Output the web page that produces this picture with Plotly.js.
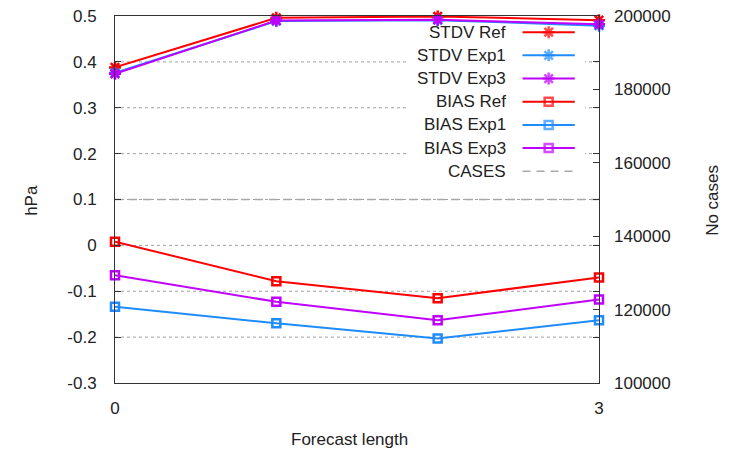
<!DOCTYPE html>
<html>
<head>
<meta charset="utf-8">
<script src="https://cdn.plot.ly/plotly-3.0.1.min.js"></script>
<style>html,body{margin:0;padding:0;background:#fff;}#chart{width:735px;height:451px;}</style>
</head>
<body>
<div id="chart"></div>
<script>
// ---- data ----
const lead = [0, 1, 2, 3];
const stdvRef  = [0.388, 0.496, 0.499, 0.491];
const stdvExp1 = [0.376, 0.489, 0.491, 0.479];
const stdvExp3 = [0.374, 0.490, 0.492, 0.482];
const biasRef  = [0.008, -0.078, -0.115, -0.070];
const biasExp1 = [-0.134, -0.170, -0.203, -0.163];
const biasExp3 = [-0.065, -0.123, -0.163, -0.118];
const cases    = [150000, 150000, 150000, 150000];

const seriesNames = ["STDV Ref", "STDV Exp1", "STDV Exp3", "BIAS Ref", "BIAS Exp1", "BIAS Exp3", "CASES"];
const leftTicks = [-0.3, -0.2, -0.1, 0, 0.1, 0.2, 0.3, 0.4, 0.5];
const rightTicks = [100000, 120000, 140000, 160000, 180000, 200000];
const xTicks = [0, 3];

// ---- styles ----
const RED = "#ff0000", BLUE = "#1e8cff", PURPLE = "#c000ff", GRAY = "#a8a8a8";
const FONT = {family: "Liberation Sans, Arial, sans-serif", size: 17, color: "#222"};

const defs = [
  {name: seriesNames[0], y: stdvRef,  color: RED,    sym: "asterisk-open"},
  {name: seriesNames[1], y: stdvExp1, color: BLUE,   sym: "asterisk-open"},
  {name: seriesNames[2], y: stdvExp3, color: PURPLE, sym: "asterisk-open"},
  {name: seriesNames[3], y: biasRef,  color: RED,    sym: "square-open"},
  {name: seriesNames[4], y: biasExp1, color: BLUE,   sym: "square-open"},
  {name: seriesNames[5], y: biasExp3, color: PURPLE, sym: "square-open"}
];
const msize = s => (s === "square-open" ? 8 : 10);

const traces = [];
traces.push({
  x: lead, y: cases, yaxis: "y2", name: seriesNames[6], mode: "lines",
  line: {color: GRAY, width: 1.5, dash: "8px,6px"}, showlegend: false, hoverinfo: "skip"
});
defs.forEach(d => {
  traces.push({
    x: lead, y: d.y, name: d.name, mode: "lines+markers", cliponaxis: false,
    line: {color: d.color, width: 2},
    marker: {symbol: d.sym, size: msize(d.sym), color: d.color, line: {color: d.color, width: 2.5}},
    showlegend: false
  });
});

// grid lines as shapes so the opaque key background can cover them
const shapes = leftTicks.filter(v => v > -0.3 && v < 0.5).map(v => ({
  type: "line", xref: "x", yref: "y", x0: 0, x1: 3, y0: v, y1: v, layer: "below",
  line: {color: "#a0a0a0", width: 1, dash: "dot"}
}));
shapes.push({
  type: "rect", xref: "x", yref: "y", layer: "below",
  x0: 1.806, x1: 2.913, y0: 0.136, y1: 0.476,
  fillcolor: "#ffffff", opacity: 1, line: {width: 0}
});

// custom key (gnuplot style: text right, sample on the right)
const keyTextX = 0.812, keyL0 = 0.842, keyL1 = 0.950, keyM = 0.896;
const keyTop = 0.956, keyStep = 0.0632;
const annotations = [];
seriesNames.forEach((nm, i) => {
  const yy = keyTop - i * keyStep;
  annotations.push({xref: "paper", yref: "paper", x: keyTextX, y: yy, xanchor: "right", yanchor: "middle",
    text: nm, showarrow: false, font: FONT});
  if (i < defs.length) {
    const d = defs[i];
    traces.push({
      x: [keyL0, keyM, keyL1], y: [yy, yy, yy], xaxis: "x3", yaxis: "y3", mode: "lines+markers",
      line: {color: d.color, width: 2}, cliponaxis: false,
      marker: {symbol: d.sym, size: [0, msize(d.sym), 0], color: d.color, line: {color: d.color, width: 2.5}},
      showlegend: false, hoverinfo: "skip"
    });
  } else {
    traces.push({
      x: [keyL0, keyL1], y: [yy, yy], xaxis: "x3", yaxis: "y3", mode: "lines",
      line: {color: GRAY, width: 1.5, dash: "8px,6px"}, showlegend: false, hoverinfo: "skip"
    });
  }
});

annotations.push({xref: "paper", yref: "paper", x: 0.485, y: -0.155, xanchor: "center", yanchor: "middle",
  text: "Forecast length", showarrow: false, font: FONT});
annotations.push({xref: "paper", yref: "paper", x: -0.1715, y: 0.499, xanchor: "center", yanchor: "middle",
  text: "hPa", textangle: -90, showarrow: false, font: FONT});
annotations.push({xref: "paper", yref: "paper", x: 1.2355, y: 0.499, xanchor: "center", yanchor: "middle",
  text: "No cases", textangle: -90, showarrow: false, font: FONT});

const layout = {
  width: 735, height: 451,
  margin: {l: 115, r: 136, t: 16, b: 68, pad: 0},
  paper_bgcolor: "#fff", plot_bgcolor: "#fff",
  font: FONT, showlegend: false,
  xaxis: {
    range: [0, 3], tickvals: xTicks, ticktext: xTicks.map(String),
    ticks: "inside", ticklen: 5, tickcolor: "#333",
    showline: true, linecolor: "#333", linewidth: 1, mirror: true,
    showgrid: false, zeroline: false, ticklabelstandoff: 10, tickfont: FONT
  },
  yaxis: {
    range: [-0.3, 0.5], tickvals: leftTicks, ticktext: leftTicks.map(v => String(+v.toFixed(1))),
    ticks: "inside", ticklen: 6, tickcolor: "#333",
    showline: true, linecolor: "#333", linewidth: 1, mirror: "ticks",
    showgrid: false, zeroline: false, ticklabelstandoff: 14, tickfont: FONT
  },
  yaxis2: {
    range: [100000, 200000], tickvals: rightTicks, ticktext: rightTicks.map(String),
    overlaying: "y", side: "right", anchor: "x",
    ticks: "inside", ticklen: 6, tickcolor: "#333",
    showline: false, showgrid: false, zeroline: false, ticklabelstandoff: 14, tickfont: FONT
  },
  xaxis3: {domain: [0, 1], range: [0, 1], visible: false, overlaying: "x", anchor: "y3", fixedrange: true},
  yaxis3: {domain: [0, 1], range: [0, 1], visible: false, overlaying: "y", anchor: "x3", fixedrange: true},
  shapes: shapes,
  annotations: annotations
};

Plotly.newPlot("chart", traces, layout, {displayModeBar: false, staticPlot: true});
</script>
</body>
</html>
